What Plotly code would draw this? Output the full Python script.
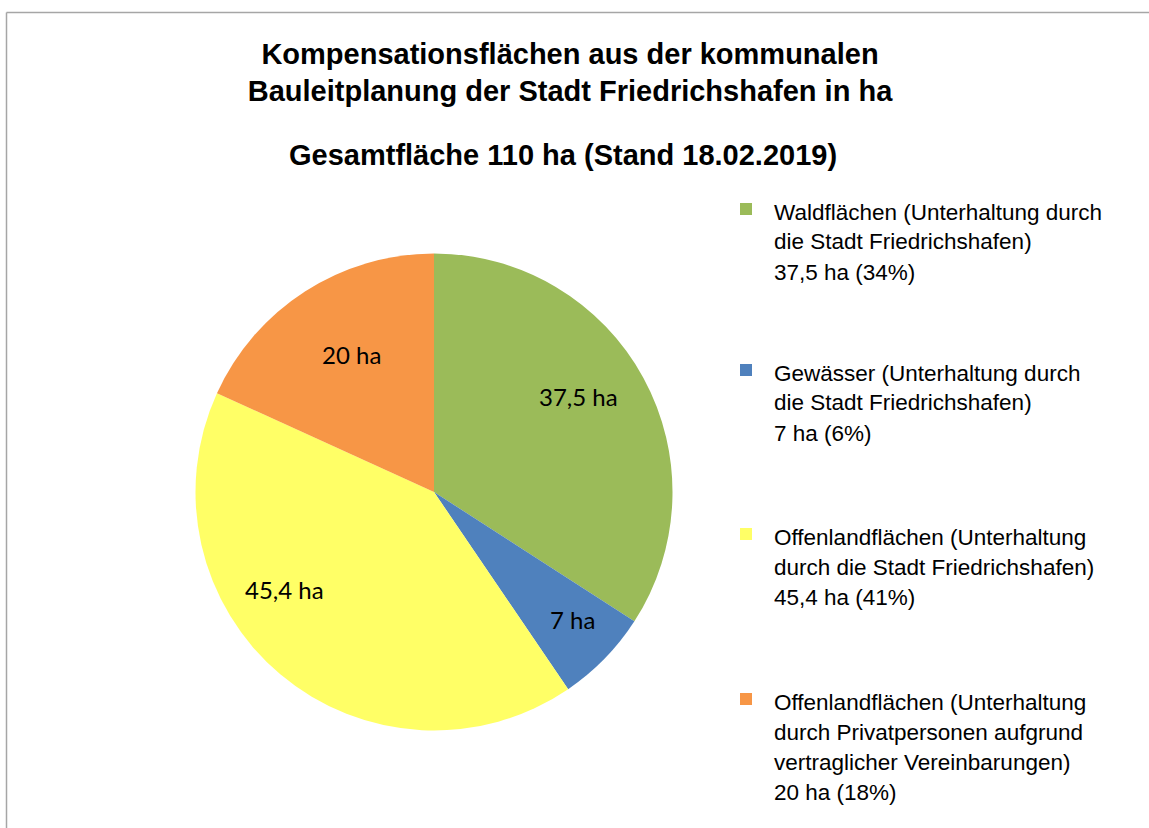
import math
import plotly.graph_objects as go

# ---- data ----
categories = [
    "Waldflächen (Unterhaltung durch die Stadt Friedrichshafen)",
    "Gewässer (Unterhaltung durch die Stadt Friedrichshafen)",
    "Offenlandflächen (Unterhaltung durch die Stadt Friedrichshafen)",
    "Offenlandflächen (Unterhaltung durch Privatpersonen aufgrund vertraglicher Vereinbarungen)",
]
legend_lines = [
    ["Waldflächen (Unterhaltung durch", "die Stadt Friedrichshafen)"],
    ["Gewässer (Unterhaltung durch", "die Stadt Friedrichshafen)"],
    ["Offenlandflächen (Unterhaltung", "durch die Stadt Friedrichshafen)"],
    ["Offenlandflächen (Unterhaltung", "durch Privatpersonen aufgrund", "vertraglicher Vereinbarungen)"],
]
values = [37.5, 7, 45.4, 20]
colors = ["#9BBB59", "#4F81BD", "#FFFF66", "#F79646"]

title_lines = ["Kompensationsflächen aus der kommunalen",
               "Bauleitplanung der Stadt Friedrichshafen in ha"]
subtitle = "Gesamtfläche 110 ha (Stand 18.02.2019)"

# ---- layout settings ----
W, H = 1149, 828
PIE_CX, PIE_CY, PIE_R = 434, 492, 238.5          # pixel geometry of the pie domain
# data-label placement ("best fit" style): radius fraction and angular nudge per slice
label_radius = [0.725, 0.79, 0.75, 0.67]
label_angle_nudge = [-4.8, -1.7, 16.7, 1.8]


def fmt(v):
    return f"{v:g}".replace(".", ",") + " ha"


def py(y):
    return 1 - y / H


total = sum(values)

fig = go.Figure(go.Pie(
    labels=categories,
    values=values,
    textinfo="none",
    marker=dict(colors=colors, line=dict(width=0)),
    sort=False,
    direction="clockwise",
    rotation=0,
    showlegend=False,
    hoverinfo="label+value+percent",
    domain=dict(x=[(PIE_CX - PIE_R) / W, (PIE_CX + PIE_R) / W],
                y=[py(PIE_CY + PIE_R), py(PIE_CY - PIE_R)]),
))

annotations = []
shapes = []

# data labels, placed at each slice's angle computed from the values
cum = 0.0
for i, v in enumerate(values):
    mid = (cum + v / 2) / total * 360 + label_angle_nudge[i]
    cum += v
    rr = label_radius[i] * PIE_R
    x = PIE_CX + rr * math.sin(math.radians(mid))
    y = PIE_CY - rr * math.cos(math.radians(mid))
    annotations.append(dict(
        text=fmt(v), x=x / W, y=py(y), xref="paper", yref="paper",
        xanchor="center", yanchor="middle", showarrow=False,
        font=dict(family="Lato, Open Sans, sans-serif", size=24, color="#000000"),
    ))

# subtitle
annotations.append(dict(
    text=f"<b>{subtitle}</b>", x=563 / W, y=py(155), xref="paper", yref="paper",
    xanchor="center", yanchor="middle", showarrow=False,
    font=dict(family="Liberation Sans, Arial, sans-serif", size=29, color="#000000"),
))

# custom legend
entry_tops = [212, 373, 537, 702]
line_gap = 30
for i, (lines, v, c) in enumerate(zip(legend_lines, values, colors)):
    pct = round(100 * v / total)
    all_lines = lines + [f"{fmt(v)} ({pct}%)"]
    y0 = entry_tops[i]
    shapes.append(dict(
        type="rect", xref="paper", yref="paper",
        x0=740 / W, x1=752 / W, y0=py(y0 - 9), y1=py(y0 + 3),
        fillcolor=c, line=dict(width=0),
    ))
    for j, ln in enumerate(all_lines):
        annotations.append(dict(
            text=ln, x=772 / W, y=py(y0 + j * line_gap), xref="paper", yref="paper",
            xanchor="left", yanchor="middle", showarrow=False,
            font=dict(family="Liberation Sans, Arial, sans-serif", size=22.5, color="#000000"),
        ))

# chart frame (top and left edges visible)
shapes.append(dict(type="line", xref="paper", yref="paper",
                   x0=6.5 / W, x1=1.0, y0=py(12.5), y1=py(12.5),
                   line=dict(color="#A6A6A6", width=1.5)))
shapes.append(dict(type="line", xref="paper", yref="paper",
                   x0=6.5 / W, x1=6.5 / W, y0=py(12.5), y1=0,
                   line=dict(color="#A6A6A6", width=1.5)))

fig.update_layout(
    width=W, height=H,
    margin=dict(l=0, r=0, t=0, b=0),
    paper_bgcolor="white",
    plot_bgcolor="white",
    title=dict(
        text="<b>" + "<br>".join(title_lines) + "</b>",
        x=570 / W, xanchor="center", xref="paper",
        y=py(63.5), yanchor="middle", yref="container",
        font=dict(family="Liberation Sans, Arial, sans-serif", size=29, color="#000000"),
    ),
    annotations=annotations,
    shapes=shapes,
)

fig.write_html("out.html",
               config={"displayModeBar": False},
               post_script="document.body.style.margin='0';document.body.style.padding='0';")
